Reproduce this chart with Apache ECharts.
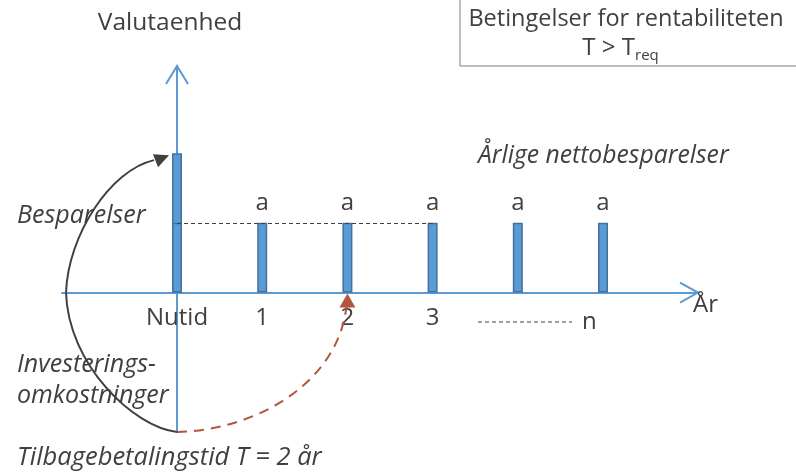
<!DOCTYPE html>
<html><head><meta charset="utf-8">
<script src="https://cdn.jsdelivr.net/npm/echarts@6/dist/echarts.min.js"></script>
<style>html,body{margin:0;padding:0;background:#fff}#c{width:796px;height:474px}</style>
</head><body><div id="c"></div>
<script>
// ---- data ----
const xTickValues = [0, 1, 2, 3];
const xTickLabels = ['Nutid', '1', '2', '3'];
const nutidTotal = [[0, 2]];          // Nutid bar, full height (= 2a)
const nutidLower = [[0, 1]];          // Nutid bar, lower part (= a)
const yearPositions = [1, 2, 3, 4, 5];
const yearValues = [1, 1, 1, 1, 1];   // annual net savings a
const barLabel = 'a';
const investment = -2;                // investment cost (2a), drawn below the axis
const paybackYear = 2;

const TXT = '#404040', BLUE = '#5B9BD5', BORDER = '#41719C', RED = '#B4553E';
const FONT = '"Open Sans"';
const Y_MIN = investment, Y_MAX = 3.25, X_MIN = -1.35, X_MAX = 6.115;

const chart = echarts.init(document.getElementById('c'));
const barStyle = { color: BLUE, borderColor: BORDER, borderWidth: 1.5 };

const baseOption = {
  animation: false,
  grid: { left: 62, right: 98, top: 66, bottom: 42, containLabel: false, outerBoundsMode: 'none' },
  xAxis: {
    type: 'value', min: X_MIN, max: X_MAX, position: 'bottom', offset: 0,
    axisLine: { show: true, onZero: false, lineStyle: { color: BLUE, width: 2 } },
    axisTick: { show: false }, splitLine: { show: false },
    axisLabel: {
      customValues: xTickValues,
      formatter: v => { const i = xTickValues.indexOf(v); return i < 0 ? '' : xTickLabels[i]; },
      margin: 14, fontSize: 24, color: TXT, fontFamily: 'Open Sans'
    }
  },
  yAxis: {
    type: 'value', min: Y_MIN, max: Y_MAX,
    axisLine: { show: true, onZero: true, lineStyle: { color: BLUE, width: 2 } },
    axisTick: { show: false }, splitLine: { show: false }, axisLabel: { show: false }
  },
  series: [
    { type: 'bar', barWidth: 10, barGap: '-100%', data: nutidTotal, itemStyle: barStyle, z: 3 },
    { type: 'bar', barWidth: 10, barGap: '-100%', data: nutidLower, itemStyle: barStyle, z: 4 },
    {
      type: 'bar', barWidth: 10, barGap: '-100%', z: 3,
      data: yearPositions.map((x, i) => [x, yearValues[i]]),
      itemStyle: barStyle,
      label: { show: true, position: 'top', distance: 8, formatter: barLabel,
               fontSize: 24, color: TXT, fontFamily: 'Open Sans' },
      markLine: {
        silent: true, symbol: ['none', 'none'], label: { show: false },
        lineStyle: { type: [4, 3], color: TXT, width: 1 },
        data: [[{ coord: [0, yearValues[0]] }, { coord: [3, yearValues[2]] }]]
      }
    }
  ]
};
chart.setOption(baseOption);

const px = (x, y) => chart.convertToPixel({ gridIndex: 0 }, [x, y]);
const O = px(0, 0);
const B = px(0, Y_MIN);
// move the x axis (line + labels) onto the zero line
chart.setOption({ xAxis: { offset: O[1] - B[1] } });

const TOP = px(0, Y_MAX);
const XR = px(X_MAX, 0);
const P2 = px(paybackYear, 0);
const N = px(0, 2);

function txt(x, y, s, opt) {
  return { type: 'text', x, y, z: 10, style: Object.assign({
    text: s, fill: TXT, font: `24px ${FONT}`, align: 'left', verticalAlign: 'middle' }, opt || {}) };
}
const it = (n) => `italic ${n}px ${FONT}`;

const bx = B[0], by = B[1];
const mid = [bx - 111, O[1]];
const tip = [N[0] - 8, N[1] + 2];
const arcEnd = [tip[0] - 15, tip[1] + 5];
const redEnd = [P2[0] - 1, P2[1] + 14];

chart.setOption({
  graphic: [
    // axis arrowheads (open chevrons)
    { type: 'polyline', z: 5, shape: { points: [[TOP[0]-11, TOP[1]+18], [TOP[0], TOP[1]], [TOP[0]+11, TOP[1]+18]] },
      style: { stroke: BLUE, lineWidth: 2, fill: null } },
    { type: 'polyline', z: 5, shape: { points: [[XR[0]-18, XR[1]-10], [XR[0], XR[1]], [XR[0]-18, XR[1]+10]] },
      style: { stroke: BLUE, lineWidth: 2, fill: null } },
    // black solid arc with arrow
    { type: 'bezierCurve', z: 6,
      shape: { x1: bx, y1: by, cpx1: bx - 44, cpy1: by - 5, cpx2: mid[0] + 2, cpy2: by - 68, x2: mid[0], y2: mid[1] },
      style: { stroke: '#404040', lineWidth: 2, fill: null } },
    { type: 'bezierCurve', z: 6,
      shape: { x1: mid[0], y1: mid[1], cpx1: mid[0] + 2, cpy1: mid[1] - 57, cpx2: mid[0] + 44, cpy2: N[1] + 17, x2: arcEnd[0], y2: arcEnd[1] },
      style: { stroke: '#404040', lineWidth: 2, fill: null } },
    { type: 'polygon', z: 6, shape: { points: [tip, [tip[0]-11, tip[1]+12], [tip[0]-16, tip[1]-1]] },
      style: { fill: '#404040' } },
    // red dashed arc with arrow
    { type: 'bezierCurve', z: 6,
      shape: { x1: bx, y1: by, cpx1: bx + 83, cpy1: by - 2, cpx2: P2[0] - 9, cpy2: by - 52, x2: redEnd[0], y2: redEnd[1] },
      style: { stroke: RED, lineWidth: 2, fill: null, lineDash: [10, 7] } },
    { type: 'polygon', z: 6, shape: { points: [[P2[0], P2[1]+1], [P2[0]-8, P2[1]+15], [P2[0]+8, P2[1]+15]] },
      style: { fill: RED } },
    // box
    { type: 'rect', z: 4, shape: { x: 460, y: -5, width: 350, height: 71 },
      style: { stroke: '#7F7F7F', lineWidth: 1, fill: null } },
    txt(626, 19, 'Betingelser for rentabiliteten', { align: 'center', font: `23.5px ${FONT}` }),
    txt(635, 48, 'T > T', { align: 'right' }),
    txt(635, 56, 'req', { font: `15px ${FONT}` }),
    txt(O[0] - 7, 23, 'Valutaenhed', { align: 'center', font: `24.5px ${FONT}` }),
    txt(478, 156, 'Årlige nettobesparelser', { font: it(24.7) }),
    txt(17, 216, 'Besparelser', { font: it(25) }),
    txt(17, 365, 'Investerings-', { font: it(25) }),
    txt(17, 396, 'omkostninger', { font: it(25) }),
    txt(17, 458, 'Tilbagebetalingstid T = 2 år', { font: it(25.5) }),
    txt(693, 305, 'År'),
    { type: 'line', z: 5, shape: { x1: 478, y1: 322, x2: 572, y2: 322 },
      style: { stroke: TXT, lineWidth: 1, lineDash: [4, 3] } },
    txt(582, 322, 'n')
  ]
});
</script></body></html>
